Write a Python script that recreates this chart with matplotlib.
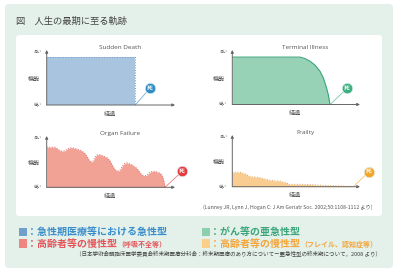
import matplotlib
matplotlib.use("Agg")
import matplotlib.pyplot as plt
from matplotlib.patches import FancyBboxPatch, Rectangle

plt.rcParams['font.family'] = ['Noto Sans CJK JP', 'DejaVu Sans']

# ---------------- data ----------------
title = "図　人生の最期に至る軌跡"
panel_titles = ["Sudden Death", "Terminal Illness", "Organ Failure", "Frailty"]

sd_x = [0, 69, 69]
sd_y = [1.0, 1.0, 0.0]

ti_x = [0, 53, 56.9, 60.8, 64.8, 68.7, 71.3, 73.9, 75.2, 76.5]
ti_y = [1.0, 1.0, 0.97, 0.915, 0.83, 0.70, 0.56, 0.34, 0.20, 0.0]

of_x = [0, 6.5, 8.5, 10.4, 12.5, 14.3, 16, 17.5, 19.5, 23.4, 27, 29.5, 31.5, 33,
        34.5, 35.5, 36.5, 37.5, 39, 41.6, 46.8, 49, 50.5, 52, 53.5, 55, 56.5, 57.5,
        59, 60.5, 62.3, 66.2, 70.1, 72, 73.5, 75, 76.5, 78, 79.5, 81, 84.4, 88.3,
        89.8, 91, 91.7, 92.2]
of_y = [0.90, 0.90, 0.86, 0.82, 0.81, 0.82, 0.86, 0.88, 0.89, 0.86, 0.82, 0.77,
        0.69, 0.61, 0.575, 0.57, 0.60, 0.67, 0.73, 0.73, 0.67, 0.61, 0.53, 0.45,
        0.39, 0.37, 0.37, 0.40, 0.48, 0.53, 0.55, 0.51, 0.43, 0.36, 0.30, 0.27,
        0.26, 0.27, 0.31, 0.35, 0.36, 0.32, 0.27, 0.18, 0.08, 0.0]

fr_x = [0, 6.0, 8.6, 11.2, 12.5, 15.1, 20.4, 23.0, 28.2, 33.4, 37.3, 39.9, 42.6,
        43.9, 49.1, 54.3, 62.1, 64.8, 70.0, 75.2, 80.4, 85.6, 90.9, 94.8]
fr_y = [0.32, 0.32, 0.30, 0.275, 0.24, 0.22, 0.21, 0.19, 0.15, 0.13, 0.128, 0.10,
        0.09, 0.053, 0.05, 0.053, 0.046, 0.04, 0.03, 0.025, 0.02, 0.015, 0.01, 0.0]

death_pos = [(80.5, 0.35), (90.0, 0.34), (105.5, 0.355), (106.8, 0.33)]
death_label = "死"
ylabel_high, ylabel_mid, ylabel_low = "高い", "機能", "低い"
xlabel = "経過"

legend_main = ["：急性期医療等における急性型", "：がん等の亜急性型",
               "：高齢者等の慢性型", "：高齢者等の慢性型"]
legend_sub = ["", "", "（呼吸不全等）", "（フレイル、認知症等）"]
citation = "(Lunney JR, Lynn J, Hogan C: J Am Geriatr Soc. 2002;50:1108-1112 より)"
footnote = "（日本学術会議臨床医学委員会終末期医療分科会：終末期医療のあり方について－亜急性型の終末期について，2008 より）"

# ---------------- styles ----------------
fills = ["#a9c4de", "#98d2b6", "#f2a295", "#f9cc92"]
edges = ["#6e9cc8", "#3ea57b", "#e07272", "#e3a458"]
edge_ls = [":", "-", ":", ":"]
circ = ["#2f8cc2", "#3dae80", "#e63a3e", "#f5a52a"]
leg_sq = ["#6f9fca", "#8ccfb0", "#ee8580", "#fbcf8a"]
leg_txt = ["#3a8dcb", "#3aa57a", "#e5545a", "#f4a53c"]

W, H = 400, 275
fig = plt.figure(figsize=(4, 2.75), dpi=100)
fig.patch.set_facecolor("white")

bg = fig.add_axes([0, 0, 1, 1])
bg.set_xlim(0, W)
bg.set_ylim(H, 0)
bg.axis("off")

bg.add_patch(FancyBboxPatch((5, 4), 388, 264, boxstyle="round,pad=0,rounding_size=4",
                            fc="#e3f1ea", ec="none"))
bg.add_patch(FancyBboxPatch((16, 35), 366, 181, boxstyle="round,pad=0,rounding_size=3",
                            fc="white", ec="none"))
bg.text(16, 21, title, fontsize=6.7, color="#444444", va="center", ha="left")

# axes placement in pixels: left, right, top, bottom
boxes = [(46.7, 175, 50, 105), (232.3, 360, 50, 104.5),
         (46.7, 175, 136, 187.3), (232.3, 360, 135, 186.7)]
series = [(sd_x, sd_y), (ti_x, ti_y), (of_x, of_y), (fr_x, fr_y)]

for i, ((l, r, t, b), (xs, ys)) in enumerate(zip(boxes, series)):
    ax = fig.add_axes([l / W, 1 - b / H, (r - l) / W, (b - t) / H])
    ax.set_xlim(0, 100)
    ax.set_ylim(0, 1.15)
    ax.axis("off")
    ax.patch.set_alpha(0)
    ax.fill_between(xs, ys, 0, color=fills[i], lw=0)
    ax.plot(xs, ys, color=edges[i], ls=edge_ls[i], lw=0.8 if i == 1 else 0.7)
    for end in [(0, 1), (1, 0)]:
        ax.annotate("", xy=end, xytext=(0, 0), xycoords="axes fraction",
                    arrowprops=dict(arrowstyle="-|>", color="#666666", lw=0.7,
                                    mutation_scale=4, shrinkA=0, shrinkB=0))
    cx, cy = death_pos[i]
    ax.plot([xs[-1], cx], [ys[-1], cy], color=circ[i], lw=0.5, alpha=0.8, clip_on=False)
    ax.plot([cx], [cy], "o", ms=7.6, color=circ[i], mec="#dff0f5", mew=0.5, clip_on=False)
    ax.text(cx, cy, death_label, color="white", fontsize=4.2, ha="center", va="center",
            fontweight="bold", clip_on=False)
    ax.text(0.57, 1.04, panel_titles[i], transform=ax.transAxes, fontsize=4.6,
            color="#555555", ha="center", va="center", family=["Open Sans", "DejaVu Sans"])
    # y labels
    bg.text(l - 5, t + 2, ylabel_high, fontsize=2.9, color="#666666", ha="right", va="center")
    bg.text(l - 5, b, ylabel_low, fontsize=2.9, color="#666666", ha="right", va="center")
    bg.text(l - 13, (t + b) / 2 + 1.5, ylabel_mid, fontsize=4.4, color="#555555",
            ha="center", va="center")
    bg.text(l + 63, b + 8.5, xlabel, fontsize=4.4, color="#555555", ha="center", va="center")

bg.text(372, 207, citation, fontsize=3.7, color="#555555", ha="right", va="center")

# legend
leg_pos = [(19, 232), (202, 232), (19, 243.5), (202, 243.5)]
for i, (lx, ly) in enumerate(leg_pos):
    bg.add_patch(Rectangle((lx, ly - 4.2), 8, 8.4, fc=leg_sq[i], ec="none"))
    t = bg.text(lx + 8, ly, legend_main[i], fontsize=7.2, color=leg_txt[i],
                ha="left", va="center", fontweight="bold")
    if legend_sub[i]:
        bg.annotate(legend_sub[i], xy=(1, 0.45), xycoords=t, fontsize=5.0,
                    color=leg_txt[i], ha="left", va="center", fontweight="bold")

bg.text(381, 254, footnote, fontsize=4.0, color="#444444", ha="right", va="center")

fig.savefig("out.png", dpi=100)
